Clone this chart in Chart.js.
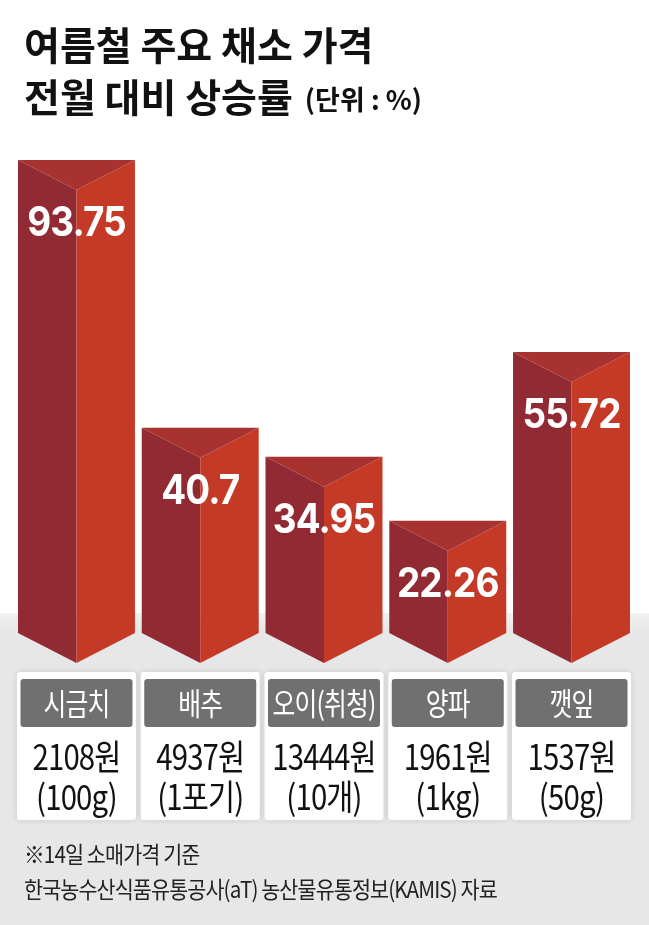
<!DOCTYPE html>
<html>
<head>
<meta charset="utf-8">
<script src="https://cdn.jsdelivr.net/npm/chart.js@4"></script>
<style>
  html, body { margin: 0; padding: 0; background: #fff; }
  #wrap { width: 649px; height: 925px; }
</style>
</head>
<body>
<div id="wrap"><canvas id="bar-chart" width="649" height="925"></canvas></div>
<script>
// 여름철 주요 채소 가격 전월 대비 상승률
const categories = ['시금치', '배추', '오이(취청)', '양파', '깻잎'];
const rates = [93.75, 40.7, 34.95, 22.26, 55.72];
const prices = ['2108원', '4937원', '13444원', '1961원', '1537원'];
const units = ['(100g)', '(1포기)', '(10개)', '(1kg)', '(50g)'];

const titleLines = ['여름철 주요 채소 가격', '전월 대비 상승률'];
const unitNote = '(단위 : %)';
const notes = ['※14일 소매가격 기준', '한국농수산식품유통공사(aT) 농산물유통정보(KAMIS) 자료'];

const KR = '"Noto Sans CJK KR", "Noto Sans", sans-serif';

function roundRect(ctx, x, y, w, h, r) {
  ctx.beginPath();
  ctx.moveTo(x + r, y);
  ctx.lineTo(x + w - r, y);
  ctx.quadraticCurveTo(x + w, y, x + w, y + r);
  ctx.lineTo(x + w, y + h - r);
  ctx.quadraticCurveTo(x + w, y + h, x + w - r, y + h);
  ctx.lineTo(x + r, y + h);
  ctx.quadraticCurveTo(x, y + h, x, y + h - r);
  ctx.lineTo(x, y + r);
  ctx.quadraticCurveTo(x, y, x + r, y);
  ctx.closePath();
}

// text squeezed horizontally, the original uses a narrow face
function narrowText(ctx, text, x, y, sx) {
  ctx.save();
  ctx.translate(x, y);
  ctx.scale(sx, 1);
  ctx.fillText(text, 0, 0);
  ctx.restore();
}

// background, title, cards and notes
const pagePlugin = {
  id: 'page',
  beforeDraw(chart) {
    const ctx = chart.ctx;
    ctx.save();
    ctx.fillStyle = '#fff';
    ctx.fillRect(0, 0, chart.width, chart.height);
    const g = ctx.createLinearGradient(0, 612, 0, 630);
    g.addColorStop(0, '#f2f2f2');
    g.addColorStop(1, '#e7e7e7');
    ctx.fillStyle = g;
    ctx.fillRect(0, 613, chart.width, chart.height - 613);

    ctx.fillStyle = '#111';
    ctx.textBaseline = 'middle';
    ctx.textAlign = 'left';
    ctx.font = 'bold 39px ' + KR;
    ctx.fillText(titleLines[0], 24, 45);
    ctx.fillText(titleLines[1], 24, 97);
    const w = ctx.measureText(titleLines[1]).width;
    ctx.font = 'bold 27px ' + KR;
    ctx.fillText(unitNote, 24 + w + 12, 100);

    ctx.fillStyle = '#222';
    ctx.font = '23px ' + KR;
    ctx.letterSpacing = '-1px';
    narrowText(ctx, notes[0], 24, 854, 0.9);
    narrowText(ctx, notes[1], 24, 889, 0.9);
    ctx.restore();
  },
  afterDraw(chart) {
    const ctx = chart.ctx;
    const xs = chart.scales.x;
    ctx.save();
    ctx.textAlign = 'center';
    ctx.textBaseline = 'middle';
    categories.forEach((c, i) => {
      const cx = xs.getPixelForValue(i);
      ctx.save();
      ctx.shadowColor = 'rgba(0,0,0,0.12)';
      ctx.shadowBlur = 6;
      ctx.fillStyle = '#fff';
      roundRect(ctx, cx - 59.5, 672, 119, 148, 3);
      ctx.fill();
      ctx.restore();
      ctx.fillStyle = '#707070';
      roundRect(ctx, cx - 56, 679, 112, 48, 3);
      ctx.fill();
      ctx.fillStyle = '#fff';
      ctx.font = '31px ' + KR;
      ctx.letterSpacing = '-1px';
      narrowText(ctx, c, cx, 703, 0.8);
      ctx.fillStyle = '#111';
      ctx.font = '35px ' + KR;
      narrowText(ctx, prices[i], cx, 757, 0.84);
      narrowText(ctx, units[i], cx, 797, 0.84);
    });
    ctx.restore();
  }
};

// prism bars drawn from the bar elements
const prismPlugin = {
  id: 'prism',
  afterDatasetsDraw(chart) {
    const ctx = chart.ctx;
    const meta = chart.getDatasetMeta(0);
    const d = 30;
    ctx.save();
    meta.data.forEach((bar, i) => {
      const { x, y, base, width } = bar.getProps(['x', 'y', 'base', 'width'], true);
      const l = x - width / 2, r = x + width / 2;
      ctx.fillStyle = '#922a34';
      ctx.beginPath();
      ctx.moveTo(l, y); ctx.lineTo(x, y + d); ctx.lineTo(x, base + d); ctx.lineTo(l, base);
      ctx.closePath(); ctx.fill();
      ctx.fillStyle = '#c53a27';
      ctx.beginPath();
      ctx.moveTo(x, y + d); ctx.lineTo(r, y); ctx.lineTo(r, base); ctx.lineTo(x, base + d);
      ctx.closePath(); ctx.fill();
      ctx.fillStyle = '#a8322f';
      ctx.beginPath();
      ctx.moveTo(l, y); ctx.lineTo(r, y); ctx.lineTo(x, y + d);
      ctx.closePath(); ctx.fill();

      ctx.fillStyle = '#fff';
      ctx.textAlign = 'center';
      ctx.textBaseline = 'middle';
      ctx.font = 'bold 41px Inter, "Noto Sans", sans-serif';
      ctx.letterSpacing = '-1px';
      narrowText(ctx, String(rates[i]), x, y + 64, 0.9);
    });
    ctx.restore();
  }
};

new Chart(document.getElementById('bar-chart').getContext('2d'), {
  type: 'bar',
  data: {
    labels: categories,
    datasets: [{
      label: '상승률',
      data: rates,
      backgroundColor: 'rgba(0,0,0,0)',
      barPercentage: 0.945,
      categoryPercentage: 1
    }]
  },
  options: {
    responsive: false,
    animation: false,
    events: [],
    layout: { padding: { left: 14.6, right: 15.6, top: 128.5, bottom: 292 } },
    plugins: { legend: { display: false }, tooltip: { enabled: false } },
    scales: {
      x: { display: false },
      y: { display: false, min: 0, max: 100 }
    }
  },
  plugins: [pagePlugin, prismPlugin]
});
</script>
</body>
</html>
